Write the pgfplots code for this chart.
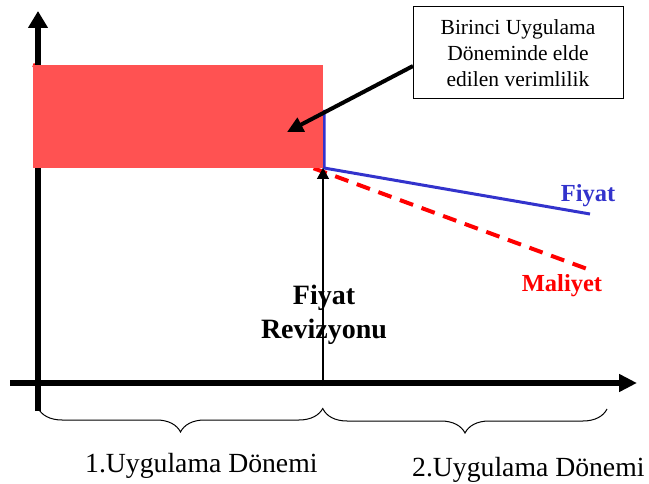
\documentclass[border=0pt]{standalone}
\usepackage{fontspec}
\setmainfont{Liberation Serif}
\usepackage{pgfplots}
\pgfplotsset{compat=1.18}
\usetikzlibrary{arrows.meta,decorations.pathreplacing}
\definecolor{rectred}{RGB}{255,82,82}
\definecolor{fblue}{RGB}{51,51,204}
\definecolor{mred}{RGB}{255,0,0}
\begin{document}
\begin{tikzpicture}
\begin{axis}[
  scale only axis, width=649pt, height=484pt,
  xmin=0, xmax=649, ymin=0, ymax=484, y dir=reverse,
  hide axis, clip=false]
% Maliyet (cost) line, dashed
\addplot[mred, line width=4pt, dash pattern=on 14pt off 9pt] coordinates {(33,65) (590,270)};
% Fiyat (price) line
\addplot[fblue, line width=3pt] coordinates {(324,110) (324,168) (590,214)};
% axes
\addplot[black, line width=6pt, -{Triangle[length=17pt,width=19pt]}] coordinates {(38,411) (38,11)};
\addplot[black, line width=6pt, -{Triangle[length=18pt,width=17pt]}] coordinates {(10,383) (637,383)};
% efficiency area
\addplot[fill=rectred, draw=none] coordinates {(33,65) (323,65) (323,168) (33,168)};
% revision arrow
\addplot[black, line width=1.5pt, -{Triangle[length=11pt,width=12pt]}] coordinates {(323,386) (323,168)};
% callout box and arrow
\addplot[black, line width=1pt, fill=white] coordinates {(413,7) (623,7) (623,99) (413,99) (413,7)};
\addplot[black, line width=4pt, -{Triangle[length=16pt,width=15pt]}] coordinates {(413,66) (287,132)};
% braces
\addplot[black, line width=1pt, decorate, decoration={brace, mirror, amplitude=24pt}] coordinates {(38,408) (323,408)};
\addplot[black, line width=1pt, decorate, decoration={brace, mirror, amplitude=24pt}] coordinates {(323,409) (607,409)};
% texts
\node[anchor=base, font=\fontsize{21.5}{24}\selectfont] at (axis cs:518,35) {Birinci Uygulama};
\node[anchor=base, font=\fontsize{21.5}{24}\selectfont] at (axis cs:518,61) {Döneminde elde};
\node[anchor=base, font=\fontsize{21.5}{24}\selectfont] at (axis cs:518,87) {edilen verimlilik};
\node[anchor=base, font=\fontsize{28}{32}\selectfont\bfseries] at (axis cs:324,305) {Fiyat};
\node[anchor=base, font=\fontsize{28}{32}\selectfont\bfseries] at (axis cs:324,338) {Revizyonu};
\node[anchor=base, text=fblue, font=\fontsize{24.5}{28}\selectfont\bfseries] at (axis cs:588,202) {Fiyat};
\node[anchor=base, text=mred, font=\fontsize{24.5}{28}\selectfont\bfseries] at (axis cs:562,292) {Maliyet};
\node[anchor=base west, inner sep=0pt, font=\fontsize{27.7}{32}\selectfont] at (axis cs:85,472) {1.Uygulama Dönemi};
\node[anchor=base west, inner sep=0pt, font=\fontsize{27.7}{32}\selectfont] at (axis cs:412,476) {2.Uygulama Dönemi};
\end{axis}
\pgfresetboundingbox
\path[use as bounding box] (current axis.south west) rectangle (current axis.north east);
\end{tikzpicture}
\end{document}
